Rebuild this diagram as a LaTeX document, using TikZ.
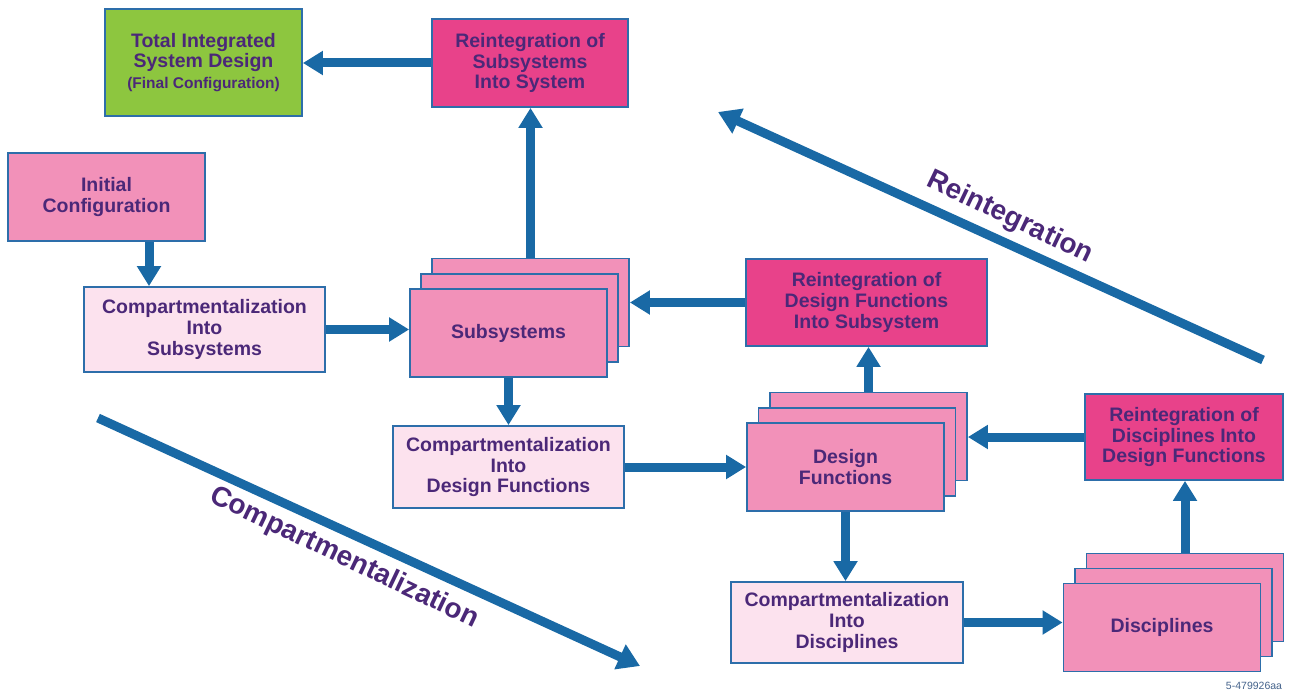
\documentclass[tikz,border=0pt]{standalone}
\usepackage{fontspec}
\setmainfont{Liberation Sans}
\usetikzlibrary{arrows.meta,calc}
\definecolor{bordc}{RGB}{45,110,170}
\definecolor{arrc}{RGB}{25,105,165}
\definecolor{txtc}{RGB}{75,40,120}
\definecolor{greenc}{RGB}{141,198,63}
\definecolor{hotpink}{RGB}{232,66,138}
\definecolor{midpink}{RGB}{242,145,185}
\definecolor{lightpink}{RGB}{252,226,238}
\definecolor{codec}{RGB}{70,100,140}
\begin{document}
\begin{tikzpicture}[x=1pt,y=-1pt,
  box/.style={draw=bordc, line width=1.8pt, align=center, text=txtc,
    font=\bfseries\fontsize{19.5}{20.8}\selectfont, inner sep=0pt},
  gbox/.style={box, fill=greenc},
  rbox/.style={box, fill=hotpink},
  cbox/.style={box, fill=lightpink},
  pbox/.style={box, fill=midpink},
  sbox/.style={box, fill=midpink, minimum width=197pt, minimum height=88pt},
  arr/.style={draw=arrc, line width=9pt, -{Triangle[width=23pt,length=20pt]}},
  darr/.style={draw=arrc, line width=9pt, -{Triangle[width=26pt,length=22pt]}},
  diag/.style={font=\bfseries\fontsize{28}{30}\selectfont, text=txtc}
]
\fill[white] (0,0) rectangle (1292,692);
\useasboundingbox (0,0) rectangle (1292,692);

% top row
\node[gbox, minimum width=197pt, minimum height=107pt] (green) at (203.5,62.5)
  {Total Integrated\\System Design\\{\fontsize{15.5}{18}\selectfont (Final Configuration)}};
\node[rbox, minimum width=196pt, minimum height=88pt] (rs) at (530,63)
  {Reintegration of\\Subsystems\\Into System};

% left column
\node[pbox, minimum width=197pt, minimum height=88pt] (init) at (106.5,197)
  {Initial\\Configuration};
\node[cbox, minimum width=241pt, minimum height=85pt] (compsub) at (204.5,329.5)
  {Compartmentalization\\Into\\Subsystems};

% subsystems stack
\node[sbox] (subC) at (530.5,302.5) {};
\node[sbox] (subB) at (519.5,318) {};
\node[sbox] (sub) at (508.5,333) {Subsystems};

\node[rbox, minimum width=241pt, minimum height=87pt] (rdf) at (866.5,302.5)
  {Reintegration of\\Design Functions\\Into Subsystem};
\node[cbox, minimum width=231pt, minimum height=82pt] (compdf) at (508.5,467)
  {Compartmentalization\\Into\\Design Functions};

% design functions stack
\node[sbox] (dfC) at (868.5,436.5) {};
\node[sbox] (dfB) at (857,452) {};
\node[sbox] (df) at (845.5,467) {Design\\Functions};

\node[rbox, minimum width=198pt, minimum height=86pt] (rdisc) at (1184,437)
  {Reintegration of\\Disciplines Into\\Design Functions};
\node[cbox, minimum width=232pt, minimum height=81pt] (compdisc) at (847,622.5)
  {Compartmentalization\\Into\\Disciplines};

% disciplines stack
\node[sbox] (discC) at (1185,597.5) {};
\node[sbox] (discB) at (1173.5,612.5) {};
\node[sbox] (disc) at (1162,627.5) {Disciplines};

% connectors
\coordinate (xinit) at (149,0);
\draw[arr] (rs.west) -- (green.east |- rs.west);
\draw[arr] (subC.north) -- (rs.south -| subC.north);
\draw[arr] (init.south -| xinit) -- (compsub.north -| xinit);
\draw[arr] (compsub.east) -- (sub.west |- compsub.east);
\draw[arr] (rdf.west) -- (subC.east |- rdf.west);
\draw[arr] (sub.south) -- (compdf.north -| sub.south);
\draw[arr] (compdf.east) -- (df.west |- compdf.east);
\draw[arr] (dfC.north) -- (rdf.south -| dfC.north);
\draw[arr] (rdisc.west) -- (dfC.east |- rdisc.west);
\draw[arr] (df.south) -- (compdisc.north -| df.south);
\draw[arr] (compdisc.east) -- (disc.west |- compdisc.east);
\draw[arr] (discC.north) -- (rdisc.south -| discC.north);

% diagonal arrows
\coordinate (rtail) at (1263,360);
\coordinate (rhead) at (718,112);
\coordinate (ctail) at (98,418);
\coordinate (chead) at (640,666);
\draw[darr] (rtail) -- (rhead);
\draw[darr] (ctail) -- (chead);
\node[diag, rotate=-25.5] (lreint) at (1010,218) {Reintegration};
\node[diag, rotate=-25.5] (lcomp) at (344,558) {Compartmentalization};

\node[text=codec, font=\fontsize{10.5}{12}\selectfont] (code) at (1254,686) {5-479926aa};
\end{tikzpicture}
\end{document}
